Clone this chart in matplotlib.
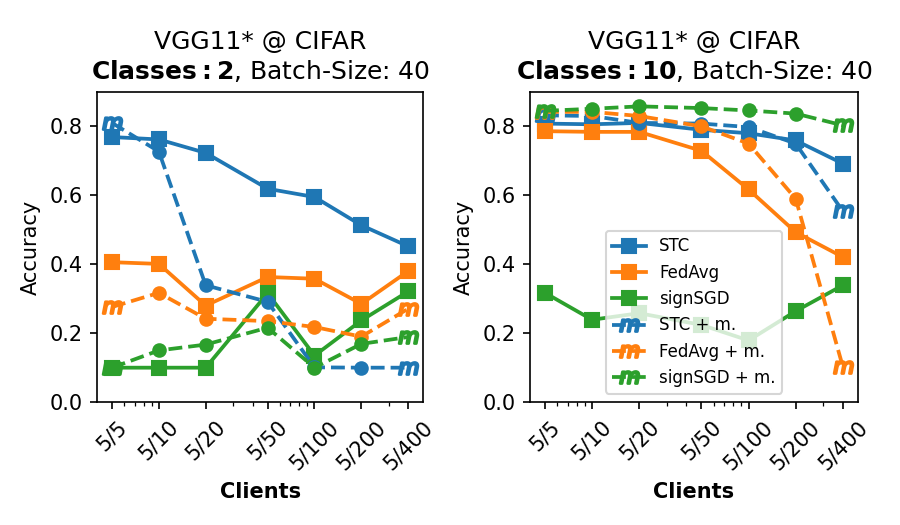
import numpy as np
import matplotlib
matplotlib.use("Agg")
import matplotlib.pyplot as plt

clients = [5, 10, 20, 50, 100, 200, 400]
tick_labels = ["5/5", "5/10", "5/20", "5/50", "5/100", "5/200", "5/400"]

# Classes: 2
stc_2 = [0.769, 0.762, 0.723, 0.619, 0.595, 0.513, 0.452]
fedavg_2 = [0.406, 0.401, 0.280, 0.363, 0.358, 0.285, 0.380]
signsgd_2 = [0.100, 0.100, 0.100, 0.316, 0.135, 0.237, 0.321]
stc_m_2 = [0.810, 0.727, 0.339, 0.291, 0.101, 0.100, 0.100]
fedavg_m_2 = [0.276, 0.317, 0.242, 0.235, 0.218, 0.190, 0.271]
signsgd_m_2 = [0.100, 0.150, 0.167, 0.216, 0.100, 0.169, 0.189]

# Classes: 10
stc_10 = [0.808, 0.806, 0.810, 0.790, 0.780, 0.759, 0.692]
fedavg_10 = [0.786, 0.784, 0.784, 0.729, 0.617, 0.493, 0.421]
signsgd_10 = [0.317, 0.239, 0.258, 0.224, 0.179, 0.264, 0.339]
stc_m_10 = [0.832, 0.830, 0.810, 0.808, 0.798, 0.750, 0.554]
fedavg_m_10 = [0.842, 0.842, 0.830, 0.800, 0.750, 0.590, 0.103]
signsgd_m_10 = [0.845, 0.851, 0.858, 0.853, 0.846, 0.837, 0.803]

panels = [
    ("2", [stc_2, fedavg_2, signsgd_2], [stc_m_2, fedavg_m_2, signsgd_m_2], False),
    ("10", [stc_10, fedavg_10, signsgd_10], [stc_m_10, fedavg_m_10, signsgd_m_10], True),
]
names = ["STC", "FedAvg", "signSGD"]
colors = ["#1f77b4", "#ff7f0e", "#2ca02c"]

fig = plt.figure(figsize=(6, 3.5), dpi=150)
axes = [fig.add_axes([0.108, 0.234, 0.362, 0.591]),
        fig.add_axes([0.589, 0.234, 0.364, 0.591])]

for ax, (cls, plain, mom, show_leg) in zip(axes, panels):
    for name, col, y in zip(names, colors, plain):
        ax.plot(clients, y, color=col, marker="s", markersize=7, lw=1.8, label=name)
    for name, col, y in zip(names, colors, mom):
        ax.plot(clients, y, color=col, ls="--", lw=1.8, marker="$m$", markersize=9,
                markeredgewidth=1.3, markevery=[0, len(clients) - 1], label=name + " + m.")
        ax.plot(clients[1:-1], y[1:-1], ls="none", marker="o", markersize=6, color=col)
    ax.set_xscale("log")
    ax.set_xticks(clients)
    ax.set_xticklabels(tick_labels, rotation=45, fontsize=10)
    ax.set_ylim(0, 0.9)
    ax.set_yticks([0.0, 0.2, 0.4, 0.6, 0.8])
    ax.tick_params(axis="y", labelsize=10)
    ax.set_xlabel("Clients", fontweight="bold", fontsize=10)
    ax.set_ylabel("Accuracy", fontsize=10)
    ax.set_title("VGG11* @ CIFAR\n" + r"$\bf{Classes:" + cls + "}$, Batch-Size: 40", fontsize=12)
    if show_leg:
        ax.legend(loc="lower center", fontsize=8)

fig.savefig("out.png", dpi=150)
